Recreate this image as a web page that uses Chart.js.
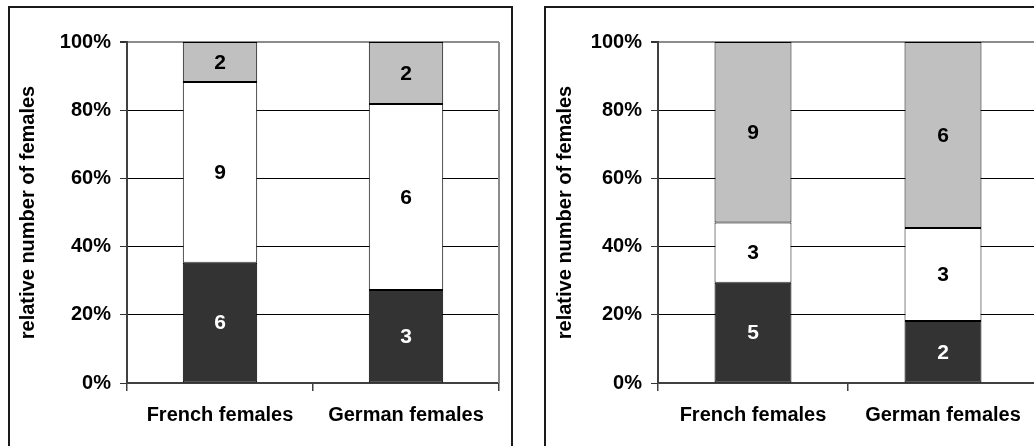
<!DOCTYPE html>
<html>
<head>
<meta charset="utf-8">
<script src="https://cdn.jsdelivr.net/npm/chart.js@4.4.0/dist/chart.umd.min.js"></script>
<style>
  html, body { margin: 0; padding: 0; background: #fff; width: 1034px; height: 446px; overflow: hidden; position: relative; }
  .panel { position: absolute; border: 2px solid #1a1a1a; box-sizing: border-box; }
  .wrap { position: absolute; top: 0; height: 446px; }
</style>
</head>
<body>
<div class="panel" style="left:8px; top:6px; width:505px; height:480px;"></div>
<div class="panel" style="left:544px; top:6px; width:520px; height:480px;"></div>
<div class="wrap" style="left:0; width:512px;"><canvas id="leftChart"></canvas></div>
<div class="wrap" style="left:520px; width:530px;"><canvas id="rightChart"></canvas></div>
<script>
// counts (stack order: bottom, middle, top)
var categories = ['French females', 'German females'];
var leftDark  = [6, 3];
var leftWhite = [9, 6];
var leftGray  = [2, 2];
var rightDark  = [5, 2];
var rightWhite = [3, 3];
var rightGray  = [9, 6];
var yTicks = [0, 20, 40, 60, 80, 100];

var FONT = '"Liberation Sans", Arial, sans-serif';

function pct(part, a, b, c) {
    return part.map(function (v, i) { return v / (a[i] + b[i] + c[i]) * 100; });
}

// number written in the middle of each bar piece
var barText = {
    id: 'barText',
    afterDatasetsDraw: function (chart) {
        var ctx = chart.ctx;
        ctx.save();
        ctx.font = 'bold 21px ' + FONT;
        ctx.textAlign = 'center';
        ctx.textBaseline = 'middle';
        chart.data.datasets.forEach(function (ds, di) {
            chart.getDatasetMeta(di).data.forEach(function (bar, i) {
                ctx.fillStyle = ds.textColor;
                ctx.fillText(ds.counts[i], bar.x, (bar.y + bar.base) / 2 + 1);
            });
        });
        ctx.restore();
    }
};

// gray right edge of plot area
var rightEdge = {
    id: 'rightEdge',
    beforeDatasetsDraw: function (chart) {
        var a = chart.chartArea, ctx = chart.ctx;
        ctx.save();
        ctx.strokeStyle = '#8c8c8c';
        ctx.lineWidth = 2;
        ctx.beginPath();
        ctx.moveTo(a.right, a.top);
        ctx.lineTo(a.right, a.bottom);
        ctx.stroke();
        ctx.restore();
    }
};

function makeChart(id, dark, white, gray, yWidth, titlePad, barPct) {
    var ctx = document.getElementById(id).getContext('2d');
    return new Chart(ctx, {
        type: 'bar',
        data: {
            labels: categories,
            datasets: [{
                data: pct(dark, dark, white, gray),
                counts: dark,
                textColor: '#ffffff',
                backgroundColor: '#333333'
            }, {
                data: pct(white, dark, white, gray),
                counts: white,
                textColor: '#000000',
                backgroundColor: '#ffffff'
            }, {
                data: pct(gray, dark, white, gray),
                counts: gray,
                textColor: '#000000',
                backgroundColor: '#c0c0c0'
            }].map(function (d) {
                d.borderColor = '#000';
                d.borderWidth = 1;
                d.borderSkipped = false;
                d.barPercentage = barPct;
                d.categoryPercentage = 1;
                return d;
            })
        },
        options: {
            responsive: true,
            maintainAspectRatio: false,
            animation: false,
            layout: { padding: { left: 0, top: 42, right: id === 'leftChart' ? 13 : 12, bottom: 0 } },
            plugins: { legend: { display: false }, tooltip: { enabled: false } },
            scales: {
                x: {
                    stacked: true,
                    grid: { offset: true, drawOnChartArea: false, tickLength: 8, color: '#404040', lineWidth: 1.5 },
                    border: { color: '#404040', width: 2 },
                    ticks: { color: '#000', padding: 12, font: { family: FONT, size: 20, weight: 'bold' } },
                    afterFit: function (s) { s.height = 63; }
                },
                y: {
                    stacked: true,
                    min: 0,
                    max: 100,
                    afterBuildTicks: function (s) { s.ticks = yTicks.map(function (v) { return { value: v }; }); },
                    afterFit: function (s) { s.width = yWidth; },
                    grid: {
                        color: function (c) { return c.tick.value === 100 ? '#8c8c8c' : '#000'; },
                        lineWidth: function (c) { return c.tick.value === 100 ? 2 : 1; },
                        tickColor: '#333',
                        tickLength: 7
                    },
                    border: { color: '#404040', width: 2 },
                    ticks: {
                        color: '#000',
                        padding: 9,
                        font: { family: FONT, size: 20, weight: 'bold' },
                        callback: function (v) { return v + '%'; }
                    },
                    title: {
                        display: true,
                        text: 'relative number of females',
                        color: '#000',
                        padding: { top: titlePad, bottom: 0 },
                        font: { family: FONT, size: 20, weight: 'bold' }
                    }
                }
            }
        },
        plugins: [barText, rightEdge]
    });
}

makeChart('leftChart', leftDark, leftWhite, leftGray, 127, 16, 0.4);
makeChart('rightChart', rightDark, rightWhite, rightGray, 138, 33, 0.405);
</script>
</body>
</html>
